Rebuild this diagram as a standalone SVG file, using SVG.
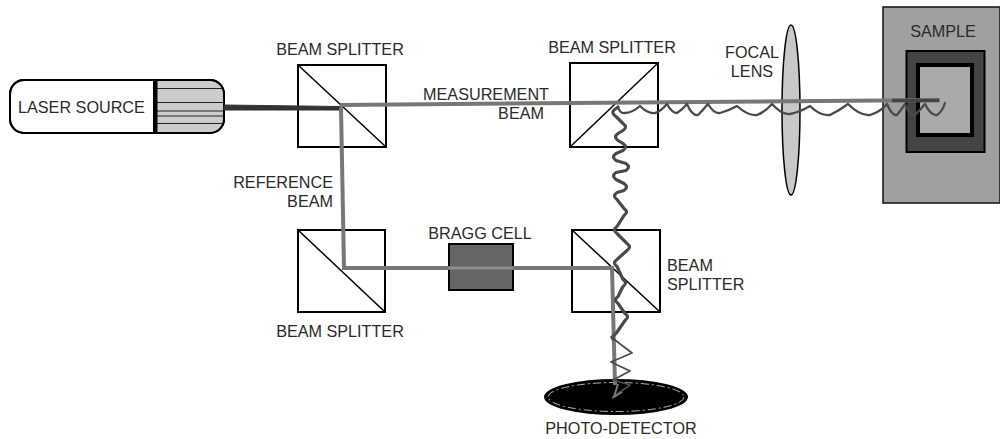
<svg xmlns="http://www.w3.org/2000/svg" width="1000" height="439" viewBox="0 0 1000 439">
<style>
text{font-family:"Liberation Sans",Arial,sans-serif;font-size:16.2px;fill:#2a2a2a}
.bs{fill:#fff;stroke:#000;stroke-width:2}
.thin{fill:none;stroke:#000;stroke-width:1.500}
.beam{fill:none;stroke:#777;stroke-width:4}
.wave{fill:none;stroke:#4a4a4a;stroke-linejoin:round;stroke-linecap:round}
</style>
<rect width="1000" height="439" fill="#fff"/>
<g id="sample">
<rect x="883" y="7" width="117" height="196" fill="#a0a0a0" stroke="#111" stroke-width="1.500"/>
<rect x="906.500" y="51" width="78" height="101" fill="#444" stroke="#000" stroke-width="2"/>
<rect x="918" y="65" width="54" height="70" fill="#aaa" stroke="#000" stroke-width="4"/>
<text x="943" y="37" text-anchor="middle">SAMPLE</text>
</g>
<g id="laser-source">
<rect x="10" y="80" width="214" height="53" rx="14" fill="#fff" stroke="#000" stroke-width="2"/>
<path d="M157 81H210a13 13 0 0 1 13 13V119a13 13 0 0 1-13 13H157Z" fill="#ccc"/>
<path d="M157 88.500H224M157 102.500H224M157 111H224M157 116H224M157 123.500H224" stroke="#222" stroke-width="1.200" fill="none"/>
<rect x="153" y="81" width="4.500" height="52" fill="#000"/>
<rect x="10" y="80" width="214" height="53" rx="14" fill="none" stroke="#000" stroke-width="2"/>
<text x="18" y="113">LASER SOURCE</text>
</g>
<g id="splitter-1">
<rect class="bs" x="298" y="65" width="88" height="82"/>
<path class="thin" d="M298 65L386 147"/>
<text x="340" y="55" text-anchor="middle">BEAM SPLITTER</text>
</g>
<g id="splitter-2">
<rect class="bs" x="570" y="63" width="88" height="84"/>
<path class="thin" d="M570 147L658 63"/>
<text x="612" y="53" text-anchor="middle">BEAM SPLITTER</text>
</g>
<g id="splitter-3">
<rect class="bs" x="298" y="230" width="87" height="82"/>
<path class="thin" d="M298 230L385 312"/>
<text x="340" y="337" text-anchor="middle">BEAM SPLITTER</text>
</g>
<g id="splitter-4">
<rect class="bs" x="572" y="230" width="88" height="82"/>
<path class="thin" d="M572 230L660 312"/>
<text x="667" y="271">BEAM</text>
<text x="667" y="290">SPLITTER</text>
</g>
<g id="bragg-cell">
<rect x="449" y="244" width="64" height="46" fill="#666" stroke="#000" stroke-width="2"/>
<text x="480" y="239" text-anchor="middle">BRAGG CELL</text>
</g>
<g id="focal-lens">
<ellipse cx="791" cy="110" rx="9" ry="85" fill="#c8c8c8" stroke="#000" stroke-width="1.500"/>
<text x="752" y="58" text-anchor="middle">FOCAL</text>
<text x="752" y="77" text-anchor="middle">LENS</text>
</g>
<g id="photo-detector">
<ellipse cx="616" cy="397" rx="72" ry="18" fill="#000"/>
<ellipse cx="616" cy="397" rx="68" ry="14.500" fill="none" stroke="#ddd" stroke-width="0.800" stroke-dasharray="8 3 2 3"/>
<text x="621" y="434" text-anchor="middle">PHOTO-DETECTOR</text>
</g>
<g id="connectors">
<path class="beam" d="M340 105L940 100"/>
<path d="M224 105L340 106.500V110L224 110Z" fill="#333" stroke="#333" stroke-width="1"/>
<path d="M892 100.500H939" fill="none" stroke="#444" stroke-width="3.500"/>
<path class="beam" d="M341 107L344 268H612L615 385"/>
<path d="M449 268H513" stroke="#aaa" stroke-width="1" fill="none"/>
<path class="wave" stroke-width="2.300" d="M618 107Q620 114 625 113Q632 113 640 106Q648 114 655 113Q660 112 667 104Q672 113 677 113Q682 110 687 104Q692 116 698 115Q703 110 708 104Q714 114 720 113Q728 111 737 106Q748 116 757 115Q765 112 772 104Q782 115 790 114Q800 112 810 106Q820 116 830 115Q840 110 848 104Q860 116 870 115Q880 112 887 104Q892 116 897 115Q901 110 905 104Q910 116 915 115Q920 110 925 104Q931 116 937 115Q942 112 945 103"/>
<path class="wave" stroke-width="3.200" d="M618 107L614 110Q611 113 616 116.500L623 123.500Q628 127 623 130.500L618 133.500Q613 137 618 140.500L623 143.500Q628 147 623 150.500L616 153.500Q611 157 616 160.500L626 163.500Q631 167 626 170.500L616 172.500Q611 176 616 179.500L624 183.500Q629 187 624 190.500L617 192.500Q612 196 617 199.500L624 208.500Q629 212 624 215.500L617 226.500Q612 230 617 233.500L627 243.500Q632 247 627 250.500L617 259.500Q612 263 617 266.500L623 279.500Q628 283 623 286.500L618 296.500Q613 300 618 303.500L625 313.500Q630 317 625 320.500L616 333.500Q611 337 613 339"/>
<path class="wave" stroke-width="1.800" d="M611 337L632 353L611 362L630 371L613 380L630 385L613 397"/>
<path d="M618 384L614 397L622 392" fill="none" stroke="#777" stroke-width="2"/>
</g>
<g id="beam-labels">
<text x="549" y="100" text-anchor="end">MEASUREMENT</text>
<text x="544" y="119" text-anchor="end">BEAM</text>
<text x="333" y="188" text-anchor="end">REFERENCE</text>
<text x="333" y="207" text-anchor="end">BEAM</text>
</g>
</svg>
